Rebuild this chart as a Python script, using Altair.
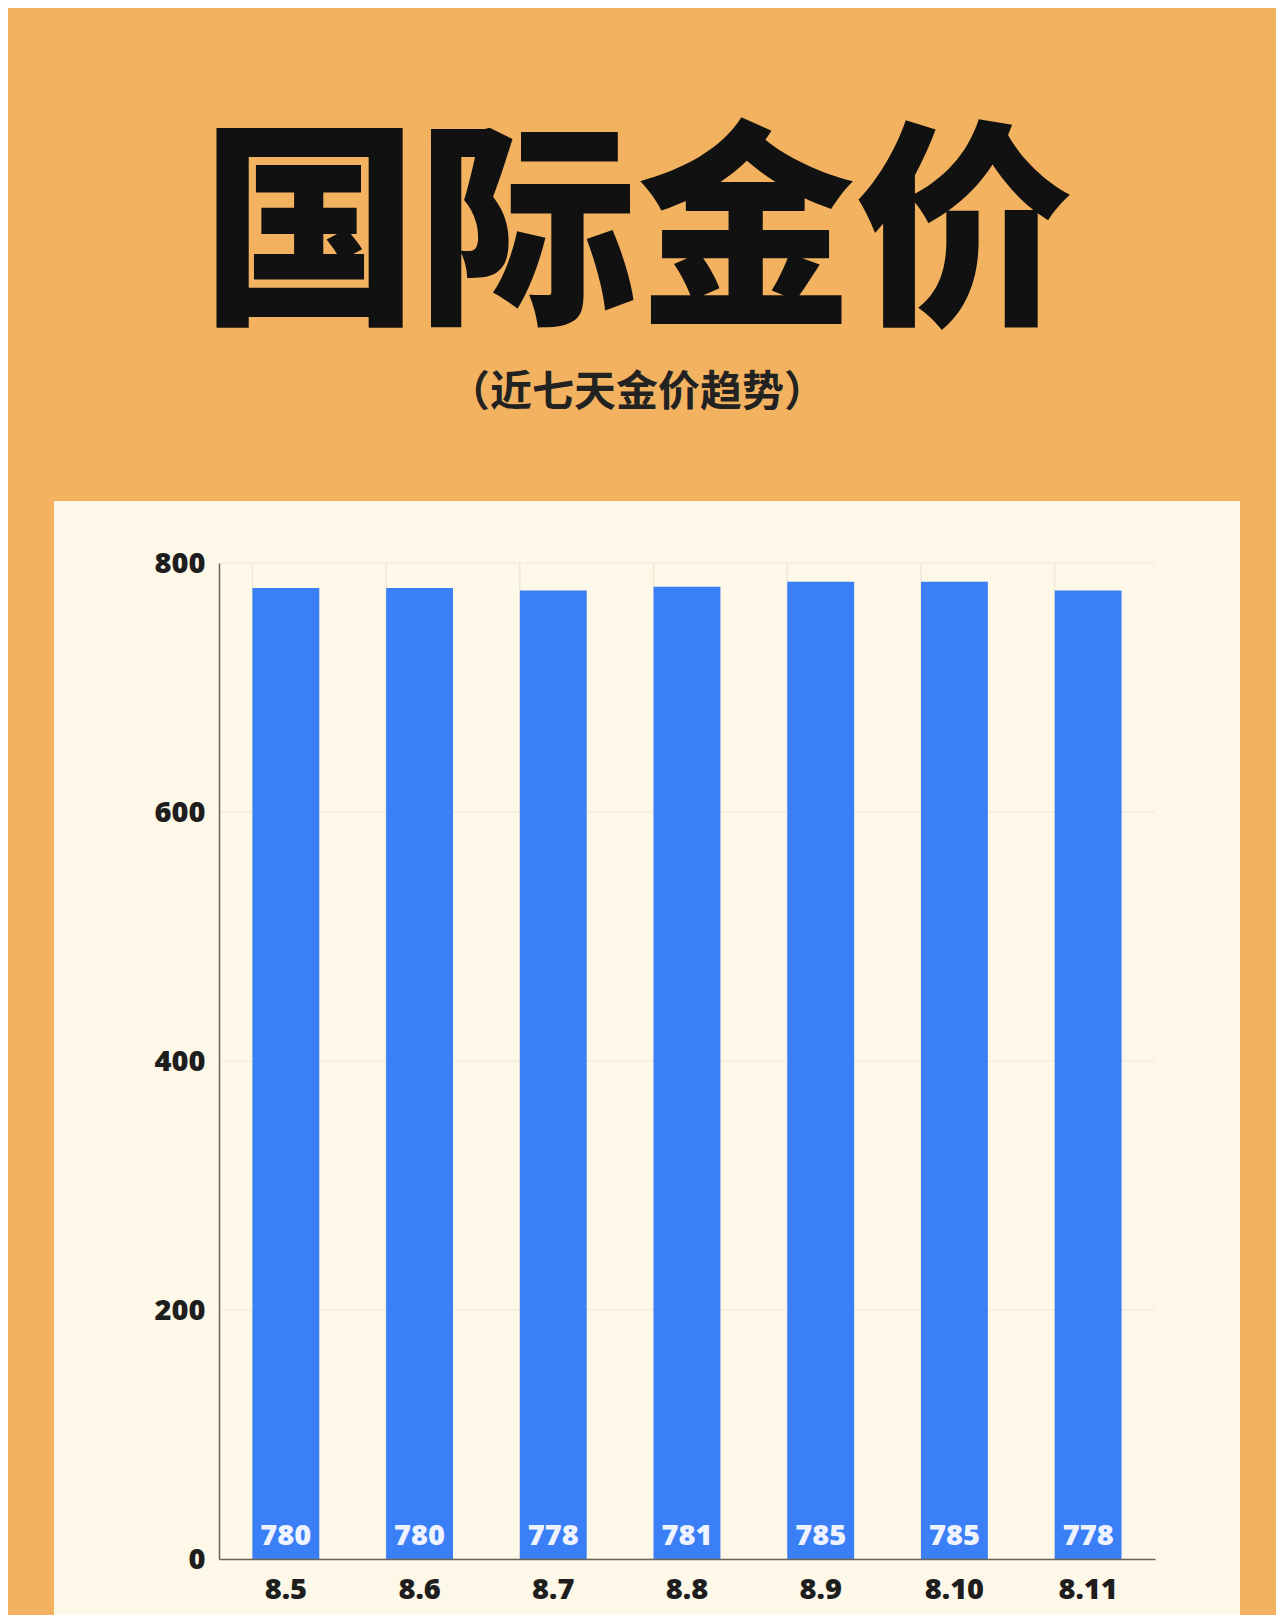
import altair as alt
import pandas as pd

dates = ["8.5", "8.6", "8.7", "8.8", "8.9", "8.10", "8.11"]
prices = [780, 780, 778, 781, 785, 785, 778]
y_ticks = [0, 200, 400, 600, 800]

title_text = "国际金价"
subtitle_text = "（近七天金价趋势）"

df = pd.DataFrame({"date": dates, "price": prices})
df_ticks = pd.DataFrame({"v": y_ticks})

W, H = 936, 996

base = alt.Chart(df)

panel = alt.Chart(alt.Data(values=[{"k": 1}])).mark_rect(color="#fdf8e7").encode(
    x=alt.value(-165), x2=alt.value(W + 85), y=alt.value(-62), y2=alt.value(H + 70)
)

xscale = alt.Scale(paddingInner=0.5, paddingOuter=0.25)
yscale = alt.Scale(domain=[0, 800], nice=False)

axis_common = dict(ticks=False, grid=False, domainColor="#6b6459", domainWidth=1.5,
                   labelFont="Open Sans", labelFontWeight=800,
                   labelFontSize=29, labelColor="#1e1e1e", zindex=1)
X_AXIS = alt.Axis(labelAngle=0, labelPadding=16, bandPosition=0.5, **axis_common)
Y_AXIS = alt.Axis(values=y_ticks, labelPadding=14, **axis_common)

vgrid = base.mark_rule(color="#e9e3d2", strokeWidth=1).encode(
    x=alt.X("date:N", sort=dates, scale=xscale, bandPosition=0, title=None, axis=X_AXIS),
)
hgrid = alt.Chart(df_ticks).mark_rule(color="#eee8d8", strokeWidth=1).encode(
    y=alt.Y("v:Q", scale=yscale, title=None, axis=Y_AXIS),
)

bars = base.mark_bar(color="#3b7ff7").encode(
    x=alt.X("date:N", sort=dates, title=None, scale=xscale, axis=X_AXIS),
    y=alt.Y("price:Q", title=None, scale=yscale, axis=Y_AXIS),
)

labels = base.mark_text(color="#eef3ff", font="Open Sans", fontWeight=800,
                        fontSize=29, baseline="alphabetic", dy=-14).encode(
    x=alt.X("date:N", sort=dates, title=None, axis=X_AXIS),
    y=alt.YDatum(0, title=None, axis=Y_AXIS),
    text=alt.Text("price:Q"),
)

chart = alt.layer(panel, hgrid, vgrid, bars, labels).properties(
    width=W, height=H,
    title=alt.TitleParams(
        text=title_text, subtitle=subtitle_text,
        anchor="middle", frame="group", dx=-50, offset=85,
        font="Noto Sans CJK SC", fontSize=218, fontWeight=900, color="#111111",
        subtitleFont="Noto Sans CJK SC", subtitleFontSize=42,
        subtitleFontWeight="bold", subtitleColor="#222222", subtitlePadding=20,
    ),
    autosize=alt.AutoSizeParams(type="none"),
    padding={"left": 211, "right": 121, "top": 555, "bottom": 56},
    background="#f3b260",
).configure_view(stroke="#e3ddcf", strokeWidth=1.5)

chart.save("out.html", embed_options={"renderer": "svg", "actions": False})
